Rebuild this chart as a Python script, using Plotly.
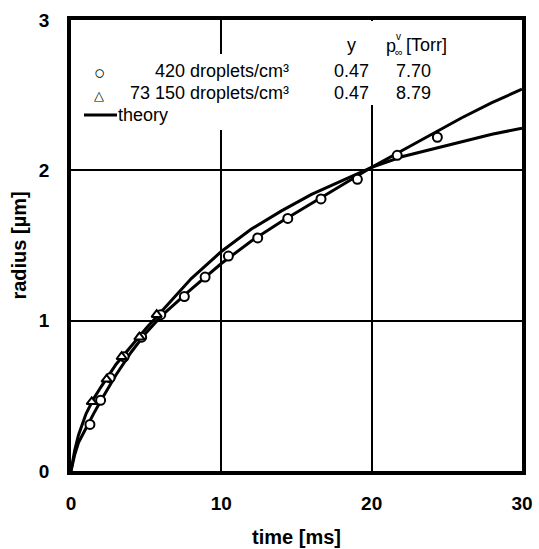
import plotly.graph_objects as go

# ---- data ----
circ_t = [1.26, 1.97, 2.6, 3.53, 4.7, 5.97, 7.54, 8.92, 10.47, 12.42, 14.42, 16.63, 19.05, 21.7, 24.37]
circ_r = [0.31, 0.47, 0.62, 0.76, 0.89, 1.04, 1.16, 1.29, 1.43, 1.55, 1.68, 1.81, 1.94, 2.10, 2.22]

tri_t = [1.38, 2.37, 3.37, 4.55, 5.7]
tri_r = [0.46, 0.61, 0.76, 0.89, 1.04]

theory_t = [0, 0.25, 0.5, 1, 1.5, 2, 3, 4, 5, 6, 8, 10, 12, 14, 16, 18, 20, 22, 24, 26, 28, 30]
theory_low_conc = [0, 0.11, 0.19, 0.29, 0.38, 0.47, 0.64, 0.79, 0.92, 1.03, 1.21, 1.38, 1.53, 1.66, 1.78, 1.90, 2.02, 2.13, 2.24, 2.35, 2.45, 2.54]
theory_high_conc = [0, 0.14, 0.24, 0.38, 0.48, 0.56, 0.71, 0.83, 0.95, 1.06, 1.28, 1.46, 1.61, 1.73, 1.84, 1.93, 2.02, 2.09, 2.14, 2.19, 2.24, 2.28]

legend_labels = ["420 droplets/cm³", "73 150 droplets/cm³"]
legend_y = ["0.47", "0.47"]
legend_p = ["7.70", "8.79"]

x_ticks = [0, 10, 20, 30]
y_ticks = [0, 1, 2, 3]

# ---- geometry helpers (pixel -> data) ----
X0, X1, Y0, Y1 = 71, 522, 471, 20
def tx(px):
    return (px - X0) / (X1 - X0) * 30
def ry(py):
    return (Y0 - py) / (Y0 - Y1) * 3

FONT = "Liberation Sans, Arial, sans-serif"

fig = go.Figure()

fig.add_trace(go.Scatter(x=theory_t, y=theory_low_conc, mode="lines",
                         line=dict(color="black", width=3), showlegend=False))
fig.add_trace(go.Scatter(x=theory_t, y=theory_high_conc, mode="lines",
                         line=dict(color="black", width=3), showlegend=False))
fig.add_trace(go.Scatter(x=circ_t, y=circ_r, mode="markers",
                         marker=dict(symbol="circle", size=9, color="white",
                                     line=dict(color="black", width=2)), showlegend=False))
fig.add_trace(go.Scatter(x=tri_t, y=tri_r, mode="markers",
                         marker=dict(symbol="triangle-up", size=9, color="white",
                                     line=dict(color="black", width=2)), showlegend=False))

# white boxes behind legend text (cover gridlines)
fig.add_shape(type="rect", xref="x", yref="y", layer="between",
              x0=tx(73), x1=tx(300), y0=ry(130), y1=ry(54),
              fillcolor="white", line=dict(width=0))
fig.add_shape(type="rect", xref="x", yref="y", layer="between",
              x0=tx(300), x1=tx(470), y0=ry(105), y1=ry(21),
              fillcolor="white", line=dict(width=0))

ann = []
def add_text(px, py, text, size=16, xanchor="center", bold=False):
    ann.append(dict(x=tx(px), y=ry(py), xref="x", yref="y", text=("<b>%s</b>" % text) if bold else text,
                    showarrow=False, xanchor=xanchor, yanchor="middle",
                    font=dict(family=FONT, size=size, color="black")))

# headers
add_text(351, 45, "y", 18)
add_text(384, 46, "p", 18, xanchor="left")
add_text(394, 36, "v", 10, xanchor="left")
add_text(393, 52, "∞", 11, xanchor="left")
add_text(404, 45, "[Torr]", 18, xanchor="left")

rows_y = [71, 93]
symbols = ["○", "△"]
sym_sizes = [19, 13]
sym_dy = [1, 2]
text_right = 291
for i in range(2):
    add_text(99, rows_y[i] + sym_dy[i], symbols[i], sym_sizes[i])
    add_text(text_right, rows_y[i], legend_labels[i], 18, xanchor="right")
    add_text(351, rows_y[i], legend_y[i], 18)
    add_text(413, rows_y[i], legend_p[i], 18)

add_text(116, 115, "theory", 18, xanchor="left")
fig.add_shape(type="line", xref="x", yref="y", x0=tx(84), x1=tx(117), y0=ry(115), y1=ry(115),
              line=dict(color="black", width=3))

fig.update_layout(annotations=ann)

fig.update_layout(
    width=539, height=549,
    margin=dict(l=71, r=17, t=20, b=78),
    plot_bgcolor="white", paper_bgcolor="white",
    showlegend=False,
    xaxis=dict(range=[0, 30], tickvals=x_ticks, ticktext=["<b>%d</b>" % v for v in x_ticks],
               showgrid=True, gridcolor="black", gridwidth=1.5,
               showline=True, linecolor="black", linewidth=3.5, mirror=True,
               ticks="inside", ticklen=5, tickwidth=2, tickcolor="black",
               zeroline=False, ticklabelstandoff=12, automargin=False,
               tickfont=dict(family=FONT, size=19, color="black"),
               title=dict(text="<b>time [ms]</b>", font=dict(family=FONT, size=20, color="black"),
                          standoff=18)),
    yaxis=dict(range=[0, 3], tickvals=y_ticks, ticktext=["<b>%d</b>" % v for v in y_ticks],
               showgrid=True, gridcolor="black", gridwidth=1.5,
               showline=True, linecolor="black", linewidth=3.5, mirror=True,
               ticks="inside", ticklen=5, tickwidth=2, tickcolor="black",
               zeroline=False, ticklabelstandoff=14, automargin=False,
               tickfont=dict(family=FONT, size=19, color="black"),
               title=dict(text="<b>radius [µm]</b>", font=dict(family=FONT, size=20, color="black"),
                          standoff=8)),
)

fig.write_html("out.html")
